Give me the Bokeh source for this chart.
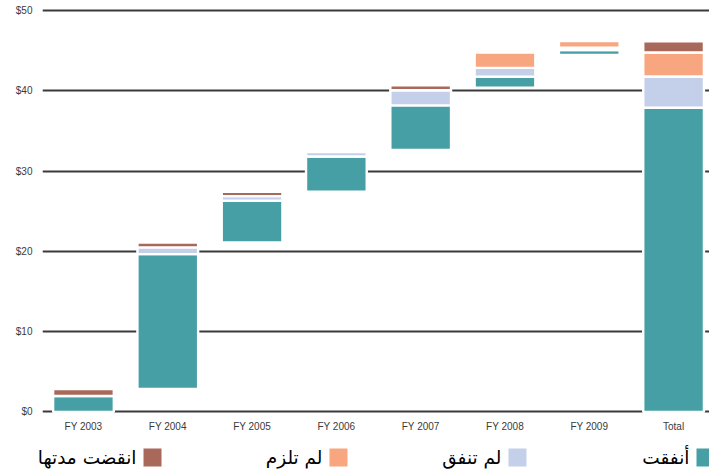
import numpy as np
from bokeh.plotting import figure
from bokeh.layouts import column
from bokeh.models import Range1d, FixedTicker, NumeralTickFormatter, ColumnDataSource
from bokeh.core.properties import value
from bokeh.embed import file_html
from bokeh.resources import INLINE

# Appropriation years plus the overall total, in billions of dollars
categories = ["FY 2003", "FY 2004", "FY 2005", "FY 2006", "FY 2007", "FY 2008", "FY 2009", "Total"]
bar_start = [0, 2.86, 21.1, 27.42, 32.63, 40.4, 44.46, 0]
spent = [1.99, 16.8, 5.2, 4.4, 5.56, 1.34, 0.6, 37.88]
unspent = [0, 0.84, 0.58, 0.56, 1.87, 1.12, 0.3, 3.9]
unobligated = [0, 0, 0, 0, 0, 1.9, 0.85, 2.99]
expired = [0.87, 0.6, 0.54, 0, 0.63, 0, 0, 1.39]

series_labels = ["أنفقت", "لم تنفق", "لم تلزم", "انقضت مدتها"]
series_colors = ["#459fa5", "#c4d0ea", "#f8a680", "#a8685a"]
y_ticks = [0, 10, 20, 30, 40, 50]

p = figure(width=709, height=440,
           x_range=Range1d(-0.486, 7.426), y_range=Range1d(-0.81, 51.245),
           output_backend="svg", toolbar_location=None,
           min_border_left=42, min_border_right=0, min_border_top=0, min_border_bottom=22)
p.outline_line_color = None
p.background_fill_color = "white"
p.border_fill_color = "white"
p.frame_align = False

p.xgrid.visible = False
p.ygrid.ticker = FixedTicker(ticks=y_ticks)
p.ygrid.grid_line_color = "#3a3a3a"
p.ygrid.grid_line_width = 2.2

p.yaxis.ticker = FixedTicker(ticks=y_ticks)
p.yaxis.formatter = NumeralTickFormatter(format="$0")
p.yaxis.axis_line_color = None
p.yaxis.major_tick_line_color = None
p.yaxis.minor_tick_line_color = None
p.yaxis.major_tick_out = 0
p.yaxis.minor_tick_out = 0
p.yaxis.major_label_standoff = 10
p.yaxis.major_label_text_font = "Liberation Sans"
p.yaxis.major_label_text_font_size = "10px"
p.yaxis.major_label_text_color = "#3a3a3a"

p.xaxis.ticker = FixedTicker(ticks=list(range(len(categories))))
p.xaxis.major_label_overrides = {i: c for i, c in enumerate(categories)}
p.xaxis.axis_line_color = None
p.xaxis.major_tick_line_color = None
p.xaxis.minor_tick_line_color = None
p.xaxis.major_tick_out = 0
p.xaxis.minor_tick_out = 0
p.xaxis.major_label_standoff = 2
p.xaxis.major_label_text_font = "Liberation Sans"
p.xaxis.major_label_text_font_size = "10px"
p.xaxis.major_label_text_color = "#3a3a3a"

# Floating stacked segments: each year's bar starts from its own base
idx = np.arange(len(categories))
lower = np.array(bar_start, dtype=float)
for vals, color in zip([spent, unspent, unobligated, expired], series_colors):
    vals = np.array(vals, dtype=float)
    upper = lower + vals
    keep = vals > 0
    src = ColumnDataSource(dict(x=idx[keep], bottom=lower[keep], top=upper[keep]))
    p.vbar(x="x", bottom="bottom", top="top", width=0.72, source=src,
           fill_color=color, line_color="white", line_width=2.4)
    lower = upper

# Right-to-left legend strip underneath the chart
leg = figure(width=709, height=35, x_range=Range1d(0, 709), y_range=Range1d(475, 440),
             output_backend="svg", toolbar_location=None,
             x_axis_location=None, y_axis_location=None, min_border=0)
leg.outline_line_color = None
leg.grid.visible = False
leg.frame_align = False
swatch_left = [696, 508, 329, 143]
swatch_size = 18
leg.rect(x=[s + swatch_size / 2 for s in swatch_left], y=457,
         width=swatch_size, height=swatch_size,
         fill_color=series_colors, line_color=None)
leg.text(x=[s - 7 for s in swatch_left], y=457, text=series_labels,
         text_align="right", text_baseline="middle",
         text_font=value("DejaVu Sans"), text_font_size="18.5px", text_color="black")

layout = column(p, leg, spacing=0)
open("out.html", "w").write(file_html(layout, INLINE))
